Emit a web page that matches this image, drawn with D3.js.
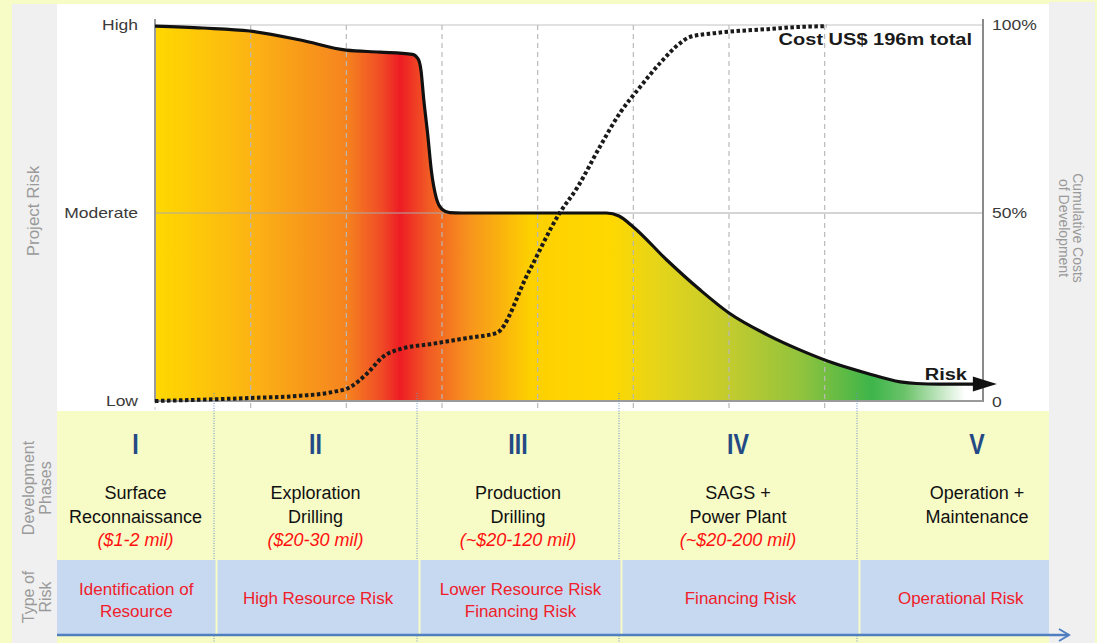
<!DOCTYPE html>
<html>
<head>
<meta charset="utf-8">
<script src="https://cdn.jsdelivr.net/npm/d3@7"></script>
<style>
  html, body { margin: 0; padding: 0; background: #f7fbc6; }
  svg { display: block; font-family: "Liberation Sans", Arial, Helvetica, sans-serif; }
</style>
</head>
<body>
<svg id="chart" width="1097" height="643"></svg>
<script>
// ---- data ----------------------------------------------------------------
// Project timeline runs along x (phase units); risk level 0 = Low, 50 = Moderate, 100 = High
const riskX     = [0, 0.5, 0.99, 1.52, 2.0, 2.35, 2.69, 2.75, 2.78, 2.81, 2.85, 2.89, 2.94, 3.0, 3.08, 3.2, 4.72, 4.85, 5.0, 5.35, 5.7, 6.0, 6.4, 6.74, 7.09, 7.44, 7.79, 7.96, 8.2, 8.57];
const riskLevel = [99.7, 99.2, 98.4, 96, 93.3, 92.8, 92.2, 91, 88, 80, 71, 61, 54, 51, 50.1, 50, 50, 49.2, 46.3, 37.5, 29.5, 23.4, 17.6, 13.6, 10.1, 7.4, 5.1, 4.65, 4.5, 4.5];

// Cumulative share of the development cost (%)
const costX   = [0, 0.99, 1.52, 1.86, 2.04, 2.22, 2.38, 2.56, 2.9, 3.25, 3.57, 3.9, 4.23, 4.41, 4.65, 4.86, 5.07, 5.28, 5.49, 5.59, 5.87, 6.40, 6.74, 7.02];
const costPct = [0, 0.8, 1.4, 2.4, 3.7, 7.4, 11.7, 13.8, 15.2, 16.7, 18.1, 34, 50, 56.6, 67.6, 76.6, 83.5, 89.9, 95.2, 96.8, 97.9, 98.9, 99.5, 99.7];

const gridTicks      = [1, 2, 3, 4, 5, 6, 7];
const riskTickValues = [0, 50, 100];
const riskTickLabels = ["Low", "Moderate", "High"];
const costTickLabels = ["0", "50%", "100%"];
const xMax = 8.655;

// Development phases
const phaseEnds     = [0.617, 2.739, 4.85, 7.338];
const phaseNumerals = ["I", "II", "III", "IV", "V"];
const phaseNames    = [["Surface", "Reconnaissance"], ["Exploration", "Drilling"], ["Production", "Drilling"], ["SAGS +", "Power Plant"], ["Operation +", "Maintenance"]];
const phaseCosts    = ["($1-2 mil)", "($20-30 mil)", "(~$20-120 mil)", "(~$20-200 mil)", ""];
const riskTypes     = [["Identification of", "Resource"], ["High Resource Risk"], ["Lower Resource Risk", "Financing Risk"], ["Financing Risk"], ["Operational  Risk"]];

const costTitle = "Cost US$ 196m total";
const riskTitle = "Risk";

// ---- layout --------------------------------------------------------------
const W = 1097, H = 643;
const svg = d3.select("#chart");
const plot = { left: 155, right: 983, top: 25, bottom: 401 };

const x = d3.scaleLinear().domain([0, xMax]).range([plot.left, plot.right]);
const y = d3.scaleLinear().domain([0, 100]).range([plot.bottom, plot.top]);

// Background panels
svg.append("rect").attr("x", 0).attr("y", 0).attr("width", W).attr("height", H).attr("fill", "#f7fbc6");
svg.append("rect").attr("x", 12).attr("y", 4).attr("width", 45).attr("height", H - 4).attr("fill", "#f0f0f0");
svg.append("rect").attr("x", 1049).attr("y", 2).attr("width", 46).attr("height", H - 2).attr("fill", "#f0f0f0");
svg.append("rect").attr("x", 57).attr("y", 4).attr("width", 992).attr("height", 407).attr("fill", "#ffffff");

// Horizontal colour ramp of the risk area
const defs = svg.append("defs");
const grad = defs.append("linearGradient").attr("id", "riskRamp")
  .attr("gradientUnits", "userSpaceOnUse")
  .attr("x1", plot.left).attr("x2", plot.right).attr("y1", 0).attr("y2", 0);
[
  [155, "#ffd800"], [250, "#fcb414"], [346, "#f5841f"], [382, "#f04a26"], [400, "#ed1c24"],
  [428, "#f15a24"], [470, "#f7941d"], [530, "#fdd000"], [610, "#ffd800"], [660, "#e4d41a"],
  [730, "#c2cb2e"], [800, "#92c33d"], [872, "#3db54a"], [905, "#6cc36a"], [965, "#ffffff"]
].forEach(([px, c]) => grad.append("stop")
  .attr("offset", (px - plot.left) / (plot.right - plot.left)).attr("stop-color", c));

const riskData = riskX.map((v, i) => [v, riskLevel[i]]);
const costData = costX.map((v, i) => [v, costPct[i]]);

// Risk area
svg.append("path").datum(riskData)
  .attr("fill", "url(#riskRamp)")
  .attr("d", d3.area().x(d => x(d[0])).y0(y(0)).y1(d => y(d[1])).curve(d3.curveMonotoneX));

// Gridlines (dashed verticals, moderate line, top frame)
svg.append("g").selectAll("line").data(gridTicks).join("line")
  .attr("x1", d => x(d)).attr("x2", d => x(d))
  .attr("y1", plot.top).attr("y2", plot.bottom + 9)
  .attr("stroke", "#b9b9b9").attr("stroke-width", 1.2).attr("stroke-dasharray", "5,4");
svg.append("line").attr("x1", plot.left).attr("x2", plot.left).attr("y1", plot.bottom).attr("y2", plot.bottom + 9)
  .attr("stroke", "#c8c8c8").attr("stroke-dasharray", "3,3");
svg.append("line").attr("x1", plot.left).attr("x2", plot.right).attr("y1", y(50)).attr("y2", y(50))
  .attr("stroke", "#aaaaaa").attr("stroke-width", 1);
svg.append("line").attr("x1", plot.left).attr("x2", plot.right).attr("y1", y(100)).attr("y2", y(100))
  .attr("stroke", "#c4c4c4").attr("stroke-width", 1.2);

// Axes frame
svg.append("line").attr("x1", plot.left).attr("x2", plot.left).attr("y1", plot.top - 6).attr("y2", plot.bottom + 1)
  .attr("stroke", "#9a9a9a").attr("stroke-width", 2);
svg.append("line").attr("x1", plot.right).attr("x2", plot.right).attr("y1", plot.top - 6).attr("y2", plot.bottom + 1)
  .attr("stroke", "#8a8a8a").attr("stroke-width", 2);
svg.append("line").attr("x1", plot.left).attr("x2", plot.right).attr("y1", plot.bottom).attr("y2", plot.bottom)
  .attr("stroke", "#9a9a9a").attr("stroke-width", 2);

// Phase separators (thin blue dotted)
svg.append("g").selectAll("line").data(phaseEnds).join("line")
  .attr("x1", d => x(d)).attr("x2", d => x(d))
  .attr("y1", plot.bottom - 8).attr("y2", H)
  .attr("stroke", "#6b8fc6").attr("stroke-width", 1).attr("stroke-dasharray", "1,1.5");

// Cumulative cost (dotted)
svg.append("path").datum(costData)
  .attr("fill", "none").attr("stroke", "#1a1a1a").attr("stroke-width", 4)
  .attr("stroke-dasharray", "3.5,2.5")
  .attr("d", d3.line().x(d => x(d[0])).y(d => y(d[1])).curve(d3.curveMonotoneX));

// Risk curve with arrow head
svg.append("path").datum(riskData)
  .attr("fill", "none").attr("stroke", "#111").attr("stroke-width", 3.2)
  .attr("stroke-linejoin", "round")
  .attr("d", d3.line().x(d => x(d[0])).y(d => y(d[1])).curve(d3.curveMonotoneX));
const last = riskData[riskData.length - 1];
const ax = x(last[0]), ay = y(last[1]);
svg.append("path")
  .attr("d", `M${ax - 2},${ay - 7.5} L${ax + 22},${ay} L${ax - 2},${ay + 7.5} Z`)
  .attr("fill", "#111");

// Helper for horizontally stretched chart lettering
function stretchText(g, px, py, txt, opts) {
  return g.append("text")
    .attr("transform", `translate(${px},${py}) scale(${opts.sx || 1},1)`)
    .attr("text-anchor", opts.anchor || "start")
    .attr("font-size", opts.size)
    .attr("font-weight", opts.weight || "normal")
    .attr("fill", opts.fill || "#333")
    .text(txt);
}

const labels = svg.append("g");
riskTickValues.forEach((v, i) => {
  stretchText(labels, 138, y(v) + 5, riskTickLabels[i], { sx: 1.25, anchor: "end", size: 14, fill: "#3a3a3a" });
  stretchText(labels, 992, y(v) + (i === 0 ? 6 : 5), costTickLabels[i], { sx: 1.25, anchor: "start", size: 14, fill: "#3a3a3a" });
});
stretchText(labels, 972, 45, costTitle, { sx: 1.25, anchor: "end", size: 16, weight: "bold", fill: "#1a1a1a" });
stretchText(labels, 967, 380, riskTitle, { sx: 1.25, anchor: "end", size: 16, weight: "bold", fill: "#1a1a1a" });

// Rotated side titles
function rotated(cx, cy, angle, lines, size, step) {
  const t = svg.append("text")
    .attr("transform", `translate(${cx},${cy}) rotate(${angle})`)
    .attr("text-anchor", "middle").attr("font-size", size).attr("fill", "#9a9a9a");
  lines.forEach((l, i) => t.append("tspan").attr("x", 0).attr("dy", i === 0 ? 0 : step).text(l));
}
rotated(39, 211, -90, ["Project Risk"], 17, 0);
rotated(34, 488, -90, ["Development", "Phases"], 16, 17);
rotated(34, 597, -90, ["Type of", "Risk"], 16, 17);
rotated(1073, 228, 90, ["Cumulative Costs", "of Development"], 14, 14);

// ---- phase table ---------------------------------------------------------
const edges = [57, ...phaseEnds.map(x), W];
const table = svg.append("g");

phaseNumerals.forEach((n, i) => {
  const cx = (edges[i] + edges[i + 1]) / 2;
  stretchText(table, cx, 454, n, { sx: 0.8, anchor: "middle", size: 29, weight: "bold", fill: "#234a85" });
  phaseNames[i].forEach((line, j) => {
    table.append("text").attr("x", cx).attr("y", 499 + j * 24)
      .attr("text-anchor", "middle").attr("font-size", 18).attr("fill", "#111").text(line);
  });
  if (phaseCosts[i]) {
    table.append("text").attr("x", cx).attr("y", 546)
      .attr("text-anchor", "middle").attr("font-size", 18).attr("font-style", "italic")
      .attr("fill", "#ff1010").text(phaseCosts[i]);
  }
});

// Type-of-risk band
const bandTop = 560, bandBottom = 634;
const cellEdges = [57, ...phaseEnds.map(d => x(d) + 2), 1049];
riskTypes.forEach((lines, i) => {
  const x0 = cellEdges[i] + (i === 0 ? 0 : 1.5), x1 = cellEdges[i + 1] - (i === 4 ? 0 : 0.5);
  table.append("rect").attr("x", x0).attr("y", bandTop).attr("width", x1 - x0).attr("height", bandBottom - bandTop)
    .attr("fill", "#c6d9f1");
  const cx = (x0 + x1) / 2 + (i === 4 ? 6 : 0);
  const baseY = lines.length === 1 ? 604 : 595;
  lines.forEach((l, j) => {
    table.append("text").attr("x", cx).attr("y", baseY + j * 22)
      .attr("text-anchor", "middle").attr("font-size", 17).attr("fill", "#f0202a").text(l);
  });
});

// Timeline arrow along the bottom
svg.append("line").attr("x1", 57).attr("x2", 1069).attr("y1", 635).attr("y2", 635)
  .attr("stroke", "#4f7fc0").attr("stroke-width", 2.5);
svg.append("path").attr("d", "M1059,629 L1069,635 L1059,641")
  .attr("fill", "none").attr("stroke", "#4f7fc0").attr("stroke-width", 2);
</script>
</body>
</html>
